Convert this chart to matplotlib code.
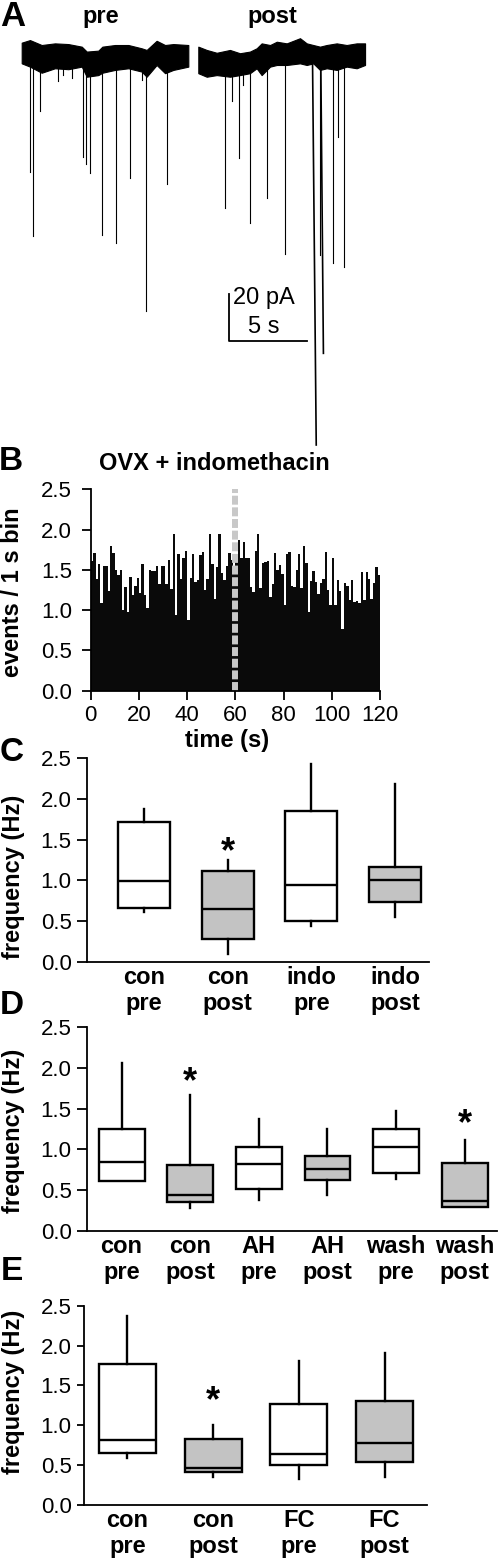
import matplotlib

matplotlib.use("Agg")
import matplotlib.pyplot as plt  # noqa: E402

plt.rcParams["font.family"] = ["Liberation Sans", "DejaVu Sans"]

W, H = 499, 1564
GRAY = "#c3c3c3"

# ---- panel A: example trace (time in s, current in pA) ----
PRE_T = [0.00, 0.53, 1.28, 2.13, 2.99, 3.85, 4.17, 4.91, 5.17, 5.98, 6.84,
         7.69, 8.01, 8.65, 9.19, 9.72, 10.68]
PRE_TOP = [6.1, 7.2, 5.1, 5.8, 5.5, 4.4, 2.3, 2.7, 4.4, 5.1, 5.1,
           3.7, 3.0, 6.9, 5.1, 5.5, 5.1]
PRE_BOT = [-2.7, -4.1, -6.7, -4.8, -5.2, -4.1, -8.4, -7.7, -6.7, -5.5, -4.8,
           -6.2, -8.4, -3.4, -6.9, -5.5, -4.1]
PRE_EVT_T = [0.53, 0.74, 1.17, 2.35, 2.67, 3.20, 3.91, 4.12, 4.38, 5.13,
             6.04, 6.94, 7.69, 7.95, 9.31]
PRE_EVT_AMP = [-48.8, -76.2, -22.9, -10.1, -7.7, -9.0, -42.4, -45.5, -49.2,
               -75.7, -79.1, -51.5, -9.8, -108.1, -54.0]

POST_T = [0.00, 0.54, 1.18, 2.03, 2.67, 3.31, 3.74, 4.06, 4.60, 5.03, 5.67,
          6.52, 6.95, 7.37, 7.80, 8.23, 8.87, 9.51, 10.15, 10.69]
POST_TOP = [4.4, 3.0, 1.8, 3.0, 1.6, 2.3, 3.7, 5.8, 5.1, 6.5, 5.8,
            8.0, 5.8, 5.1, 4.4, 5.1, 5.8, 5.1, 5.8, 5.8]
POST_BOT = [-6.9, -8.4, -7.7, -8.4, -7.7, -6.9, -4.8, -7.7, -4.1, -3.4, -3.4,
            -2.7, -3.4, -2.7, -5.5, -4.8, -5.5, -4.1, -4.8, -3.4]
POST_EVT_T = [1.71, 2.14, 2.61, 2.88, 3.31, 4.42, 5.56, 7.32, 7.80, 7.85,
              8.61, 8.97, 9.33]
POST_EVT_AMP = [-64.4, -18.6, -42.9, -11.9, -70.8, -60.1, -83.8, -165.1,
                -84.3, -126.1, -87.8, -33.9, -89.2]
POST_EVT_RISE = [0, 0, 0, 0, 0, 0, 0, 0.24, 0, 0.17, 0, 0, 0]

SCALE_S = 5
SCALE_PA = 20

# ---- panel B: events per 1 s bin ----
B_COUNTS = [
    1.61, 1.71, 1.39, 1.57, 1.09, 1.55, 1.55, 1.24, 1.80, 1.71,
    1.50, 1.43, 1.50, 1.00, 1.29, 0.98, 1.41, 1.19, 1.30, 1.40,
    1.21, 1.57, 1.19, 1.03, 1.50, 1.49, 1.48, 1.55, 1.33, 1.55,
    1.55, 1.33, 1.62, 1.26, 1.94, 0.94, 1.70, 1.39, 1.65, 1.74,
    0.88, 1.40, 1.70, 1.35, 1.37, 1.68, 1.72, 1.25, 1.39, 1.95,
    1.57, 1.14, 1.54, 1.95, 1.46, 1.38, 1.55, 1.71, 1.62, 1.55,
    1.60, 1.87, 1.65, 1.85, 1.65, 1.65, 1.29, 1.23, 1.74, 1.95,
    1.27, 1.59, 1.60, 1.61, 1.16, 1.33, 1.71, 1.50, 1.56, 1.45,
    1.06, 1.70, 1.72, 1.30, 1.29, 1.50, 1.70, 1.27, 1.80, 1.58,
    0.98, 1.36, 1.49, 1.35, 1.20, 1.34, 1.39, 1.72, 1.25, 1.06,
    1.65, 1.06, 1.38, 1.24, 0.77, 1.34, 1.30, 1.12, 1.38, 1.10,
    1.11, 1.09, 1.47, 1.12, 1.47, 1.39, 1.14, 1.34, 1.53, 1.43,
]
B_DRUG_T = 60

# ---- panel C ----
C_LABELS = ["con\npre", "con\npost", "indo\npre", "indo\npost"]
C_WHISLO = [0.61, 0.10, 0.44, 0.545]
C_Q1 = [0.664, 0.275, 0.496, 0.73]
C_MED = [0.99, 0.65, 0.94, 1.00]
C_Q3 = [1.713, 1.11, 1.85, 1.17]
C_WHISHI = [1.873, 1.25, 2.43, 2.19]
C_STAR = [None, 1.455, None, None]

# ---- panel D ----
D_LABELS = ["con\npre", "con\npost", "AH\npre", "AH\npost", "wash\npre", "wash\npost"]
D_WHISLO = [0.61, 0.283, 0.377, 0.439, 0.631, 0.287]
D_Q1 = [0.615, 0.357, 0.512, 0.623, 0.713, 0.287]
D_MED = [0.84, 0.434, 0.824, 0.762, 1.025, 0.361]
D_Q3 = [1.246, 0.803, 1.029, 0.914, 1.25, 0.828]
D_WHISHI = [2.057, 1.668, 1.377, 1.246, 1.475, 1.115]
D_STAR = [None, 1.94, None, None, None, 1.42]

# ---- panel E ----
E_LABELS = ["con\npre", "con\npost", "FC\npre", "FC\npost"]
E_WHISLO = [0.591, 0.352, 0.319, 0.352]
E_Q1 = [0.646, 0.411, 0.499, 0.532]
E_MED = [0.809, 0.465, 0.637, 0.771]
E_Q3 = [1.765, 0.822, 1.27, 1.30]
E_WHISHI = [2.373, 1.002, 1.807, 1.912]
E_STAR = [None, 1.42, None, None]

FREQ_TICKS = [0.0, 0.5, 1.0, 1.5, 2.0, 2.5]

fig = plt.figure(figsize=(W / 100, H / 100), dpi=100)


def px_axes(left, top, right, bottom):
    return fig.add_axes([left / W, 1 - bottom / H, (right - left) / W, (bottom - top) / H])


def ptext(x, y, s, **kw):
    kw.setdefault("ha", "center")
    kw.setdefault("va", "center")
    fig.text(x / W, 1 - y / H, s, **kw)


def style_axes(ax, tick_len, ypad):
    for side in ("top", "right"):
        ax.spines[side].set_visible(False)
    for side in ("left", "bottom"):
        ax.spines[side].set_linewidth(1.3)
    ax.tick_params(axis="y", direction="out", length=tick_len, width=1.3,
                   labelsize=16, pad=ypad)


# ---- A ----
axA = px_axes(0, 20, 499, 460)
px_s, px_pa, t0, base_px = 15.6, 2.35, 21.7, 57
axA.set_xlim(-t0 / px_s, (W - t0) / px_s)
axA.set_ylim(-(460 - base_px) / px_pa, (base_px - 20) / px_pa)
axA.axis("off")
post_off = (198.3 - t0) / px_s

axA.fill_between(PRE_T, PRE_BOT, PRE_TOP, color="k", lw=0.8)
for t, a in zip(PRE_EVT_T, PRE_EVT_AMP):
    axA.plot([t, t], [0, a], color="k", lw=0.8)
post_t = [t + post_off for t in POST_T]
axA.fill_between(post_t, POST_BOT, POST_TOP, color="k", lw=0.8)
for t, a, r in zip(POST_EVT_T, POST_EVT_AMP, POST_EVT_RISE):
    axA.plot([t + post_off, t + post_off + r], [0, a], color="k",
             lw=1.2 if a < -120 else 0.8)

sb_t, sb_i = (229 - t0) / px_s, -(340.7 - base_px) / px_pa
axA.plot([sb_t, sb_t, sb_t + SCALE_S], [sb_i + SCALE_PA, sb_i, sb_i], color="k", lw=1.3)
axA.text(sb_t + 0.28, sb_i + SCALE_PA * 0.9, f"{SCALE_PA} pA", fontsize=17, ha="left", va="center")
axA.text(sb_t + 1.2, sb_i + SCALE_PA * 0.3, f"{SCALE_S} s", fontsize=17, ha="left", va="center")

ptext(13, 17, "A", fontsize=25, fontweight="bold")
ptext(100.5, 17, "pre", fontsize=17, fontweight="bold")
ptext(272, 17, "post", fontsize=17, fontweight="bold")

# ---- B ----
axB = px_axes(90.7, 489.3, 380, 690.7)
axB.bar(range(len(B_COUNTS)), B_COUNTS, width=1.0, align="edge", color="#0a0a0a", lw=0)
axB.axvline(B_DRUG_T, color="#c8c8c8", lw=4.3, dashes=(1.5, 0.45))
axB.set_xlim(0, len(B_COUNTS))
axB.set_ylim(0, 2.5)
axB.set_xticks(range(0, 121, 20))
axB.set_yticks(FREQ_TICKS)
axB.set_yticklabels([f"{v:.1f}" for v in FREQ_TICKS])
style_axes(axB, 6.5, 7)
axB.tick_params(axis="x", direction="out", length=6.5, width=1.3, labelsize=16, pad=4)
ptext(11, 462, "B", fontsize=24, fontweight="bold")
ptext(214, 463, "OVX + indomethacin", fontsize=17, fontweight="bold")
ptext(13, 592, "events / 1 s bin", fontsize=17, fontweight="bold", rotation=90)
ptext(226.7, 740, "time (s)", fontsize=17, fontweight="bold")


def draw_boxes(ax, labels, lo, q1, med, q3, hi, stars, width, xlim, ylab_y, letter, letter_y, tick_len):
    stats = [dict(whislo=a, q1=b, med=c, q3=d, whishi=e, label=lab)
             for a, b, c, d, e, lab in zip(lo, q1, med, q3, hi, labels)]
    pos = list(range(1, len(labels) + 1))
    bp = ax.bxp(stats, positions=pos, widths=width, patch_artist=True,
                showcaps=False, showfliers=False,
                boxprops=dict(lw=1.7, edgecolor="k"),
                whiskerprops=dict(lw=1.7, color="k"),
                medianprops=dict(lw=1.7, color="k"))
    for patch, lab in zip(bp["boxes"], labels):
        patch.set_facecolor(GRAY if lab.endswith("post") else "white")
    for p, s in zip(pos, stars):
        if s is not None:
            ax.annotate("*", (p, s), xytext=(0, -7), textcoords="offset points",
                        fontsize=26, fontweight="bold", ha="center", va="center")
    ax.set_xlim(*xlim)
    ax.set_ylim(0, 2.5)
    ax.set_yticks(FREQ_TICKS)
    ax.set_yticklabels([f"{v:.1f}" for v in FREQ_TICKS])
    style_axes(ax, tick_len, 4)
    ax.tick_params(axis="x", length=0, pad=3)
    for lbl in ax.get_xticklabels():
        lbl.set_fontsize(17)
        lbl.set_fontweight("bold")
    ptext(13.5, ylab_y, "frequency (Hz)", fontsize=17, fontweight="bold", rotation=90)
    ptext(12, letter_y, letter, fontsize=24, fontweight="bold")


axC = px_axes(87.3, 758.3, 429, 961.7)
draw_boxes(axC, C_LABELS, C_WHISLO, C_Q1, C_MED, C_Q3, C_WHISHI, C_STAR,
           0.62, (0.323, 4.406), 877, "C", 752, 7.2)

axD = px_axes(87.3, 1027.3, 497, 1230.7)
draw_boxes(axD, D_LABELS, D_WHISLO, D_Q1, D_MED, D_Q3, D_WHISHI, D_STAR,
           0.67, (0.50, 6.47), 1131, "D", 1005, 7.2)

axE = px_axes(84, 1306, 427, 1504.7)
draw_boxes(axE, E_LABELS, E_WHISLO, E_Q1, E_MED, E_Q3, E_WHISHI, E_STAR,
           0.665, (0.493, 4.495), 1392, "E", 1271, 5.0)

fig.savefig("out.png", dpi=100)
